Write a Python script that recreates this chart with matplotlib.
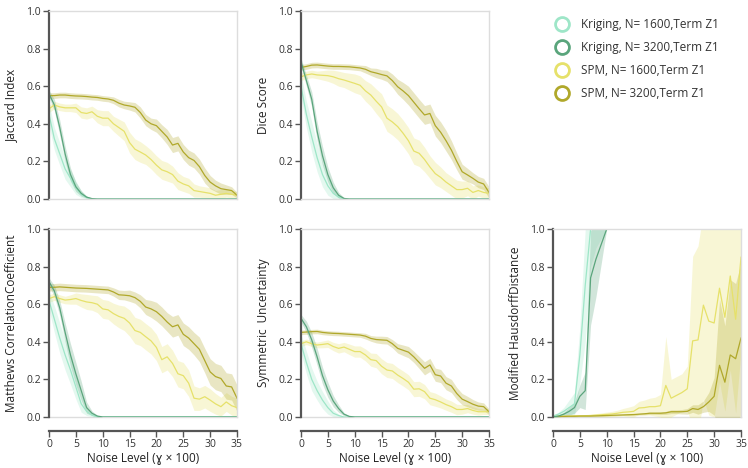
import matplotlib
matplotlib.use('Agg')
import matplotlib.pyplot as plt
from matplotlib.lines import Line2D
import numpy as np

plt.rcParams['font.family'] = ['Open Sans', 'DejaVu Sans']

noise = list(range(36))
xticks = [0, 5, 10, 15, 20, 25, 30, 35]
yticks = [0.0, 0.2, 0.4, 0.6, 0.8, 1.0]

labels = ['Kriging, N= 1600,Term Z1', 'Kriging, N= 3200,Term Z1',
          'SPM, N= 1600,Term Z1', 'SPM, N= 3200,Term Z1']
colors = ['#9ee6c8', '#5aa57c', '#e6e16a', '#b0a82a']

# Jaccard Index
jac_k1600 = [0.45, 0.32, 0.24, 0.16, 0.11, 0.06, 0.025, 0.008, 0.0, 0.0, 0.0, 0.0, 0.0, 0.0, 0.0, 0.0, 0.0, 0.0,
             0.0, 0.0, 0.0, 0.0, 0.0, 0.0, 0.0, 0.0, 0.0, 0.0, 0.0, 0.0, 0.0, 0.0, 0.0, 0.0, 0.0, 0.0]
jac_k1600_sd = [0.06, 0.06, 0.06, 0.055, 0.045, 0.035, 0.018, 0.007, 0.002, 0.0, 0.0, 0.0, 0.0, 0.0, 0.0, 0.0, 0.0,
                0.0, 0.0, 0.0, 0.0, 0.0, 0.0, 0.0, 0.0, 0.0, 0.0, 0.0, 0.0, 0.0, 0.0, 0.0, 0.0, 0.0, 0.0, 0.0]
jac_k3200 = [0.56, 0.50, 0.38, 0.24, 0.13, 0.065, 0.03, 0.01, 0.002, 0.0, 0.0, 0.0, 0.0, 0.0, 0.0, 0.0, 0.0, 0.0,
             0.0, 0.0, 0.0, 0.0, 0.0, 0.0, 0.0, 0.0, 0.0, 0.0, 0.0, 0.0, 0.0, 0.0, 0.0, 0.0, 0.0, 0.0]
jac_k3200_sd = [0.02, 0.03, 0.04, 0.04, 0.035, 0.025, 0.015, 0.006, 0.002, 0.0, 0.0, 0.0, 0.0, 0.0, 0.0, 0.0, 0.0, 0.0,
                0.0, 0.0, 0.0, 0.0, 0.0, 0.0, 0.0, 0.0, 0.0, 0.0, 0.0, 0.0, 0.0, 0.0, 0.0, 0.0, 0.0, 0.0]
jac_s1600 = [0.48, 0.50, 0.49, 0.485, 0.485, 0.485, 0.46, 0.455, 0.464, 0.44, 0.43, 0.43, 0.40, 0.38, 0.36, 0.30,
             0.265, 0.25, 0.234, 0.21, 0.18, 0.155, 0.145, 0.13, 0.095, 0.08, 0.07, 0.045, 0.04, 0.035, 0.03, 0.02,
             0.025, 0.03, 0.025, 0.02]
jac_s1600_sd = [0.02, 0.02, 0.02, 0.02, 0.02, 0.025, 0.03, 0.03, 0.03, 0.035, 0.04, 0.04, 0.04, 0.045, 0.05, 0.055,
                0.055, 0.055, 0.05, 0.05, 0.05, 0.05, 0.05, 0.045, 0.045, 0.04, 0.04, 0.035, 0.03, 0.03, 0.03, 0.025,
                0.025, 0.02, 0.02, 0.02]
jac_s3200 = [0.55, 0.55, 0.553, 0.553, 0.55, 0.548, 0.547, 0.545, 0.542, 0.54, 0.535, 0.532, 0.525, 0.51, 0.50,
             0.495, 0.488, 0.46, 0.42, 0.40, 0.39, 0.36, 0.33, 0.287, 0.296, 0.25, 0.22, 0.205, 0.172, 0.125, 0.09,
             0.07, 0.055, 0.05, 0.045, 0.02]
jac_s3200_sd = [0.015, 0.015, 0.015, 0.015, 0.015, 0.015, 0.015, 0.015, 0.015, 0.015, 0.015, 0.015, 0.018, 0.02,
                0.02, 0.022, 0.025, 0.03, 0.03, 0.03, 0.035, 0.035, 0.04, 0.04, 0.04, 0.04, 0.04, 0.04, 0.04, 0.04,
                0.035, 0.03, 0.03, 0.025, 0.02, 0.015]

# Dice Score
dice_k1600 = [0.60, 0.45, 0.33, 0.22, 0.13, 0.07, 0.03, 0.01, 0.0, 0.0, 0.0, 0.0, 0.0, 0.0, 0.0, 0.0, 0.0, 0.0,
              0.0, 0.0, 0.0, 0.0, 0.0, 0.0, 0.0, 0.0, 0.0, 0.0, 0.0, 0.0, 0.0, 0.0, 0.0, 0.0, 0.0, 0.0]
dice_k1600_sd = [0.06, 0.07, 0.08, 0.075, 0.065, 0.05, 0.028, 0.012, 0.003, 0.0, 0.0, 0.0, 0.0, 0.0, 0.0, 0.0, 0.0,
                 0.0, 0.0, 0.0, 0.0, 0.0, 0.0, 0.0, 0.0, 0.0, 0.0, 0.0, 0.0, 0.0, 0.0, 0.0, 0.0, 0.0, 0.0, 0.0]
dice_k3200 = [0.73, 0.63, 0.53, 0.36, 0.23, 0.13, 0.06, 0.02, 0.003, 0.0, 0.0, 0.0, 0.0, 0.0, 0.0, 0.0, 0.0, 0.0,
              0.0, 0.0, 0.0, 0.0, 0.0, 0.0, 0.0, 0.0, 0.0, 0.0, 0.0, 0.0, 0.0, 0.0, 0.0, 0.0, 0.0, 0.0]
dice_k3200_sd = [0.02, 0.03, 0.04, 0.05, 0.05, 0.04, 0.03, 0.015, 0.005, 0.0, 0.0, 0.0, 0.0, 0.0, 0.0, 0.0, 0.0,
                 0.0, 0.0, 0.0, 0.0, 0.0, 0.0, 0.0, 0.0, 0.0, 0.0, 0.0, 0.0, 0.0, 0.0, 0.0, 0.0, 0.0, 0.0, 0.0]
dice_s1600 = [0.65, 0.66, 0.665, 0.66, 0.658, 0.656, 0.65, 0.64, 0.633, 0.624, 0.615, 0.605, 0.575, 0.553, 0.52,
              0.49, 0.43, 0.41, 0.385, 0.35, 0.31, 0.255, 0.243, 0.21, 0.17, 0.135, 0.115, 0.09, 0.07, 0.05, 0.05,
              0.057, 0.035, 0.045, 0.035, 0.03]
dice_s1600_sd = [0.02, 0.02, 0.02, 0.02, 0.025, 0.03, 0.035, 0.04, 0.04, 0.045, 0.05, 0.05, 0.055, 0.06, 0.065,
                 0.07, 0.07, 0.07, 0.07, 0.07, 0.07, 0.07, 0.07, 0.065, 0.06, 0.06, 0.055, 0.05, 0.05, 0.05, 0.045,
                 0.04, 0.035, 0.03, 0.03, 0.03]
dice_s3200 = [0.70, 0.705, 0.712, 0.713, 0.71, 0.707, 0.705, 0.705, 0.704, 0.703, 0.70, 0.697, 0.69, 0.677, 0.67,
              0.662, 0.655, 0.63, 0.597, 0.575, 0.55, 0.515, 0.48, 0.447, 0.455, 0.39, 0.355, 0.31, 0.26, 0.20,
              0.145, 0.128, 0.11, 0.09, 0.08, 0.035]
dice_s3200_sd = [0.015, 0.015, 0.015, 0.015, 0.015, 0.015, 0.015, 0.015, 0.015, 0.015, 0.015, 0.015, 0.02, 0.02,
                 0.025, 0.025, 0.03, 0.035, 0.04, 0.045, 0.05, 0.05, 0.05, 0.05, 0.05, 0.055, 0.055, 0.055, 0.05,
                 0.045, 0.04, 0.035, 0.03, 0.03, 0.03, 0.03]

# Matthews Correlation Coefficient
mcc_k1600 = [0.62, 0.52, 0.42, 0.33, 0.25, 0.16, 0.07, 0.03, 0.01, 0.0, 0.0, 0.0, 0.0, 0.0, 0.0, 0.0, 0.0, 0.0,
             0.0, 0.0, 0.0, 0.0, 0.0, 0.0, 0.0, 0.0, 0.0, 0.0, 0.0, 0.0, 0.0, 0.0, 0.0, 0.0, 0.0, 0.0]
mcc_k1600_sd = [0.05, 0.07, 0.08, 0.08, 0.075, 0.065, 0.045, 0.022, 0.008, 0.002, 0.0, 0.0, 0.0, 0.0, 0.0, 0.0, 0.0,
                0.0, 0.0, 0.0, 0.0, 0.0, 0.0, 0.0, 0.0, 0.0, 0.0, 0.0, 0.0, 0.0, 0.0, 0.0, 0.0, 0.0, 0.0, 0.0]
mcc_k3200 = [0.72, 0.67, 0.58, 0.45, 0.33, 0.23, 0.14, 0.05, 0.02, 0.005, 0.0, 0.0, 0.0, 0.0, 0.0, 0.0, 0.0, 0.0,
             0.0, 0.0, 0.0, 0.0, 0.0, 0.0, 0.0, 0.0, 0.0, 0.0, 0.0, 0.0, 0.0, 0.0, 0.0, 0.0, 0.0, 0.0]
mcc_k3200_sd = [0.02, 0.03, 0.04, 0.05, 0.06, 0.06, 0.05, 0.03, 0.012, 0.004, 0.0, 0.0, 0.0, 0.0, 0.0, 0.0, 0.0,
                0.0, 0.0, 0.0, 0.0, 0.0, 0.0, 0.0, 0.0, 0.0, 0.0, 0.0, 0.0, 0.0, 0.0, 0.0, 0.0, 0.0, 0.0, 0.0]
mcc_s1600 = [0.63, 0.64, 0.63, 0.622, 0.625, 0.63, 0.62, 0.612, 0.608, 0.60, 0.575, 0.57, 0.55, 0.535, 0.525, 0.50,
             0.46, 0.45, 0.427, 0.405, 0.37, 0.305, 0.32, 0.285, 0.23, 0.22, 0.18, 0.10, 0.095, 0.108, 0.09, 0.07,
             0.055, 0.08, 0.06, 0.05]
mcc_s1600_sd = [0.02, 0.02, 0.02, 0.02, 0.025, 0.03, 0.035, 0.04, 0.04, 0.045, 0.05, 0.05, 0.055, 0.06, 0.065,
                0.07, 0.07, 0.07, 0.07, 0.07, 0.07, 0.07, 0.07, 0.07, 0.07, 0.07, 0.07, 0.065, 0.06, 0.06, 0.06,
                0.055, 0.05, 0.05, 0.05, 0.05]
mcc_s3200 = [0.69, 0.69, 0.692, 0.69, 0.688, 0.686, 0.685, 0.684, 0.682, 0.68, 0.678, 0.676, 0.665, 0.65, 0.648,
             0.645, 0.635, 0.615, 0.585, 0.575, 0.56, 0.535, 0.505, 0.48, 0.49, 0.44, 0.42, 0.39, 0.36, 0.30, 0.24,
             0.215, 0.205, 0.165, 0.16, 0.10]
mcc_s3200_sd = [0.02, 0.02, 0.02, 0.02, 0.02, 0.02, 0.02, 0.02, 0.02, 0.02, 0.02, 0.02, 0.022, 0.025, 0.025, 0.03,
                0.03, 0.035, 0.04, 0.045, 0.05, 0.05, 0.05, 0.055, 0.055, 0.06, 0.06, 0.06, 0.065, 0.065, 0.07,
                0.07, 0.07, 0.07, 0.07, 0.07]

# Symmetric Uncertainty
su_k1600 = [0.39, 0.29, 0.20, 0.14, 0.09, 0.05, 0.02, 0.008, 0.0, 0.0, 0.0, 0.0, 0.0, 0.0, 0.0, 0.0, 0.0, 0.0,
            0.0, 0.0, 0.0, 0.0, 0.0, 0.0, 0.0, 0.0, 0.0, 0.0, 0.0, 0.0, 0.0, 0.0, 0.0, 0.0, 0.0, 0.0]
su_k1600_sd = [0.05, 0.06, 0.06, 0.05, 0.045, 0.035, 0.018, 0.007, 0.002, 0.0, 0.0, 0.0, 0.0, 0.0, 0.0, 0.0, 0.0,
               0.0, 0.0, 0.0, 0.0, 0.0, 0.0, 0.0, 0.0, 0.0, 0.0, 0.0, 0.0, 0.0, 0.0, 0.0, 0.0, 0.0, 0.0, 0.0]
su_k3200 = [0.525, 0.48, 0.41, 0.32, 0.22, 0.145, 0.085, 0.045, 0.015, 0.003, 0.0, 0.0, 0.0, 0.0, 0.0, 0.0, 0.0,
            0.0, 0.0, 0.0, 0.0, 0.0, 0.0, 0.0, 0.0, 0.0, 0.0, 0.0, 0.0, 0.0, 0.0, 0.0, 0.0, 0.0, 0.0, 0.0]
su_k3200_sd = [0.02, 0.03, 0.04, 0.045, 0.045, 0.04, 0.03, 0.02, 0.008, 0.003, 0.0, 0.0, 0.0, 0.0, 0.0, 0.0, 0.0,
               0.0, 0.0, 0.0, 0.0, 0.0, 0.0, 0.0, 0.0, 0.0, 0.0, 0.0, 0.0, 0.0, 0.0, 0.0, 0.0, 0.0, 0.0, 0.0]
su_s1600 = [0.39, 0.40, 0.39, 0.383, 0.386, 0.39, 0.375, 0.365, 0.372, 0.36, 0.348, 0.348, 0.33, 0.305, 0.30, 0.27,
            0.25, 0.245, 0.223, 0.205, 0.185, 0.148, 0.15, 0.135, 0.10, 0.092, 0.08, 0.066, 0.055, 0.04, 0.04,
            0.045, 0.035, 0.028, 0.028, 0.028]
su_s1600_sd = [0.015, 0.015, 0.015, 0.015, 0.018, 0.02, 0.022, 0.025, 0.025, 0.028, 0.03, 0.03, 0.032, 0.035, 0.038,
               0.04, 0.04, 0.04, 0.04, 0.04, 0.04, 0.04, 0.04, 0.038, 0.035, 0.035, 0.032, 0.03, 0.03, 0.028, 0.025,
               0.022, 0.02, 0.018, 0.015, 0.015]
su_s3200 = [0.45, 0.452, 0.454, 0.455, 0.45, 0.447, 0.445, 0.444, 0.442, 0.44, 0.438, 0.436, 0.43, 0.418, 0.412,
            0.41, 0.408, 0.39, 0.365, 0.355, 0.345, 0.32, 0.29, 0.259, 0.277, 0.225, 0.218, 0.18, 0.165, 0.125,
            0.095, 0.082, 0.068, 0.058, 0.055, 0.028]
su_s3200_sd = [0.012, 0.012, 0.012, 0.012, 0.012, 0.012, 0.012, 0.012, 0.012, 0.012, 0.012, 0.012, 0.015, 0.015,
               0.018, 0.02, 0.02, 0.022, 0.025, 0.028, 0.03, 0.03, 0.032, 0.035, 0.035, 0.035, 0.035, 0.035, 0.035,
               0.032, 0.03, 0.028, 0.025, 0.022, 0.02, 0.015]

# Modified Hausdorff Distance
mhd_k1600 = [0.005, 0.015, 0.03, 0.05, 0.07, 0.33, 0.70, 1.0, 1.0, 1.0, 1.0, 1.0, 1.0, 1.0, 1.0, 1.0, 1.0, 1.0,
             1.0, 1.0, 1.0, 1.0, 1.0, 1.0, 1.0, 1.0, 1.0, 1.0, 1.0, 1.0, 1.0, 1.0, 1.0, 1.0, 1.0, 1.0]
mhd_k1600_sd = [0.005, 0.01, 0.02, 0.04, 0.06, 0.15, 0.3, 0.2, 0.1, 0.05, 0.0, 0.0, 0.0, 0.0, 0.0, 0.0, 0.0, 0.0,
                0.0, 0.0, 0.0, 0.0, 0.0, 0.0, 0.0, 0.0, 0.0, 0.0, 0.0, 0.0, 0.0, 0.0, 0.0, 0.0, 0.0, 0.0]
mhd_k3200 = [0.0, 0.005, 0.015, 0.03, 0.05, 0.11, 0.14, 0.74, 0.84, 0.92, 1.0, 1.0, 1.0, 1.0, 1.0, 1.0, 1.0, 1.0,
             1.0, 1.0, 1.0, 1.0, 1.0, 1.0, 1.0, 1.0, 1.0, 1.0, 1.0, 1.0, 1.0, 1.0, 1.0, 1.0, 1.0, 1.0]
mhd_k3200_sd = [0.003, 0.005, 0.01, 0.02, 0.03, 0.06, 0.1, 0.25, 0.2, 0.1, 0.0, 0.0, 0.0, 0.0, 0.0, 0.0, 0.0, 0.0,
                0.0, 0.0, 0.0, 0.0, 0.0, 0.0, 0.0, 0.0, 0.0, 0.0, 0.0, 0.0, 0.0, 0.0, 0.0, 0.0, 0.0, 0.0]
mhd_s1600 = [0.004, 0.004, 0.005, 0.005, 0.006, 0.006, 0.007, 0.008, 0.01, 0.012, 0.014, 0.016, 0.02, 0.025, 0.027,
             0.03, 0.048, 0.05, 0.055, 0.055, 0.06, 0.168, 0.10, 0.115, 0.13, 0.15, 0.405, 0.41, 0.595, 0.51, 0.50,
             0.685, 0.53, 0.75, 0.52, 0.85]
mhd_s1600_sd = [0.003, 0.003, 0.003, 0.003, 0.004, 0.004, 0.005, 0.006, 0.008, 0.01, 0.012, 0.014, 0.016, 0.02,
                0.025, 0.03, 0.035, 0.04, 0.045, 0.05, 0.06, 0.26, 0.1, 0.1, 0.1, 0.12, 0.45, 0.5, 0.5, 0.5, 0.5,
                0.5, 0.5, 0.5, 0.5, 0.5]
mhd_s3200 = [0.003, 0.003, 0.003, 0.004, 0.004, 0.005, 0.005, 0.005, 0.006, 0.007, 0.008, 0.009, 0.01, 0.011,
             0.012, 0.013, 0.015, 0.017, 0.02, 0.02, 0.02, 0.022, 0.028, 0.028, 0.028, 0.03, 0.045, 0.04, 0.055,
             0.08, 0.11, 0.275, 0.185, 0.33, 0.31, 0.42]
mhd_s3200_sd = [0.002, 0.002, 0.002, 0.002, 0.002, 0.002, 0.002, 0.002, 0.002, 0.003, 0.003, 0.003, 0.003, 0.003,
                0.004, 0.004, 0.005, 0.005, 0.006, 0.006, 0.007, 0.008, 0.01, 0.01, 0.012, 0.015, 0.02, 0.025, 0.03,
                0.05, 0.1, 0.35, 0.3, 0.4, 0.4, 0.4]

panels = [
    ('Jaccard Index', [(jac_k1600, jac_k1600_sd), (jac_k3200, jac_k3200_sd),
                       (jac_s1600, jac_s1600_sd), (jac_s3200, jac_s3200_sd)]),
    ('Dice Score', [(dice_k1600, dice_k1600_sd), (dice_k3200, dice_k3200_sd),
                    (dice_s1600, dice_s1600_sd), (dice_s3200, dice_s3200_sd)]),
    ('Matthews CorrelationCoefficient', [(mcc_k1600, mcc_k1600_sd), (mcc_k3200, mcc_k3200_sd),
                                        (mcc_s1600, mcc_s1600_sd), (mcc_s3200, mcc_s3200_sd)]),
    ('Symmetric  Uncertainty', [(su_k1600, su_k1600_sd), (su_k3200, su_k3200_sd),
                                (su_s1600, su_s1600_sd), (su_s3200, su_s3200_sd)]),
    ('Modified HausdorffDistance', [(mhd_k1600, mhd_k1600_sd), (mhd_k3200, mhd_k3200_sd),
                                    (mhd_s1600, mhd_s1600_sd), (mhd_s3200, mhd_s3200_sd)]),
]

W, H = 748, 468
fig = plt.figure(figsize=(W / 100, H / 100), dpi=100)

# panel boxes in pixels: left, top
boxes = [(49, 11), (301, 11), (49, 229), (301, 229), (553, 229)]
bottom_row = [False, False, True, True, True]
pw, ph = 188, 188

axis_dark = '#555555'
frame_light = '#dddddd'

for (ylabel, series), (px, py), is_bottom in zip(panels, boxes, bottom_row):
    ax = fig.add_axes([px / W, 1 - (py + ph) / H, pw / W, ph / H])
    # draw SPM first, kriging on top
    for i in [2, 3, 0, 1]:
        m = np.array(series[i][0])
        s = np.array(series[i][1])
        ax.fill_between(noise, m - s, m + s, color=colors[i], alpha=0.28, linewidth=0)
    for i in [2, 3, 0, 1]:
        ax.plot(noise, series[i][0], color=colors[i], lw=0.9)
    ax.set_xlim(0, 35)
    ax.set_ylim(0, 1)
    ax.set_yticks(yticks)
    ax.set_yticklabels([f'{t:.1f}' for t in yticks])
    for side in ['top', 'right']:
        ax.spines[side].set_color(frame_light)
        ax.spines[side].set_linewidth(1.0)
    ax.spines['left'].set_color(axis_dark)
    ax.spines['left'].set_linewidth(1.6)
    ax.tick_params(axis='y', length=4, width=1, color=axis_dark, labelsize=7.5, labelcolor='#333333', pad=2)
    ax.set_ylabel(ylabel, fontsize=8.5, color='#222222', labelpad=6)
    if is_bottom:
        ax.axhline(0, color=frame_light, lw=1.0, clip_on=False, zorder=0)
        ax.spines['bottom'].set_position(('outward', 10))
        ax.spines['bottom'].set_color(axis_dark)
        ax.spines['bottom'].set_linewidth(1.6)
        ax.set_xticks(xticks)
        ax.tick_params(axis='x', length=4, width=1, color=axis_dark, labelsize=7.5, labelcolor='#333333', pad=1.5)
        ax.set_xlabel('Noise Level (ɣ × 100)', fontsize=8.5, color='#222222', labelpad=2)
    else:
        ax.spines['bottom'].set_color(frame_light)
        ax.spines['bottom'].set_linewidth(1.0)
        ax.set_xticks([])

handles = [Line2D([], [], ls='none', marker='o', markersize=10, markerfacecolor='none',
                  markeredgecolor=c, markeredgewidth=2.0) for c in colors]
fig.legend(handles, labels, loc='upper left', bbox_to_anchor=(556 / W, 1 - 18 / H), frameon=False,
           fontsize=8.5, handlelength=1.0, handletextpad=1.1, labelspacing=0.85, borderpad=0,
           borderaxespad=0, labelcolor='#333333')

fig.savefig('out.png', dpi=100)
plt.close(fig)
